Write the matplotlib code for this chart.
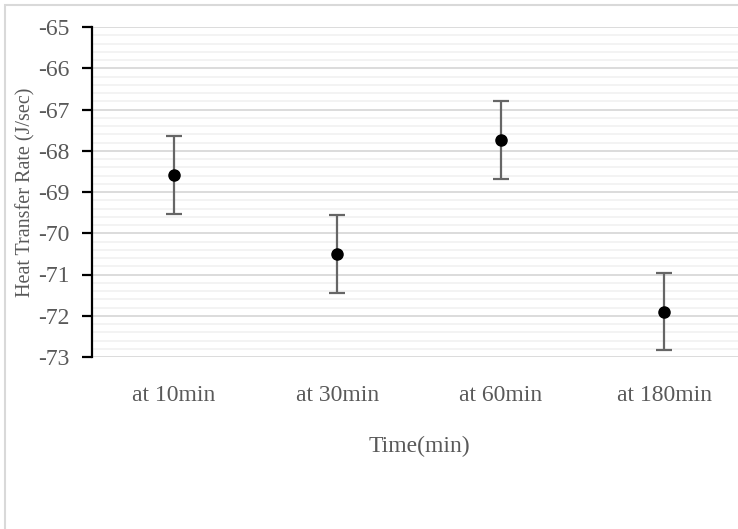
import matplotlib
matplotlib.use("Agg")
import matplotlib.pyplot as plt
from matplotlib.ticker import MultipleLocator
from matplotlib.patches import Rectangle

categories = ["at 10min", "at 30min", "at 60min", "at 180min"]
values = [-68.59, -70.50, -67.74, -71.90]
errors = [0.94, 0.94, 0.94, 0.94]
y_ticks = [-65, -66, -67, -68, -69, -70, -71, -72, -73]

plt.rcParams['font.family'] = ['Liberation Serif', 'DejaVu Serif']
W, H = 738, 529
fig = plt.figure(figsize=(W / 100, H / 100), dpi=100)
fig.patches.append(Rectangle((5 / W, -0.1), 1.2, 1 - 5 / H + 0.1, transform=fig.transFigure,
                             fill=False, edgecolor='#d9d9d9', linewidth=1.5))

left, top, bottom, right = 92, 27, 357, 746
ax = fig.add_axes([left / W, 1 - bottom / H, (right - left) / W, (bottom - top) / H])

x = list(range(len(categories)))
ax.errorbar(x, values, yerr=errors, fmt='o', color='black', markersize=8,
            ecolor='#666666', elinewidth=1.6, capsize=5.5, capthick=1.6, zorder=3)

ax.set_xlim(-0.5, len(categories) - 0.5)
ax.set_ylim(-73, -65)
ax.set_yticks(y_ticks)
ax.set_yticklabels([str(t) for t in y_ticks])
ax.yaxis.set_minor_locator(MultipleLocator(0.2))
ax.set_xticks(x)
ax.set_xticklabels(categories)

ax.grid(True, which='major', axis='y', color='#d9d9d9', linewidth=1.3, zorder=0)
ax.grid(True, which='minor', axis='y', color='#f2f2f2', linewidth=1.3, zorder=0)
ax.set_axisbelow(True)

for s in ['top', 'right', 'bottom']:
    ax.spines[s].set_visible(False)
ax.spines['left'].set_color('black')
ax.spines['left'].set_linewidth(1.6)

ax.tick_params(axis='y', which='major', direction='out', length=7, width=1.6, color='black',
               labelsize=17, labelcolor='#595959', pad=9)
ax.tick_params(axis='y', which='minor', length=0)
ax.tick_params(axis='x', length=0, labelsize=17, labelcolor='#595959', pad=20)

ax.set_xlabel("Time(min)", fontsize=17, color='#595959', labelpad=22)
ax.set_ylabel("Heat Transfer Rate (J/sec)", fontsize=14.5, color='#595959', labelpad=2)

fig.savefig("out.png", dpi=100)
